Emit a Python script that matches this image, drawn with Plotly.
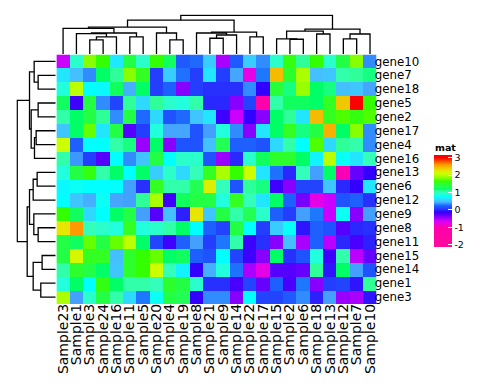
import plotly.graph_objects as go

# ---------------- data ----------------
samples = ["Sample23", "Sample1", "Sample3", "Sample24", "Sample16", "Sample11",
           "Sample5", "Sample20", "Sample4", "Sample19", "Sample8", "Sample21",
           "Sample9", "Sample14", "Sample22", "Sample17", "Sample15", "Sample2",
           "Sample6", "Sample18", "Sample13", "Sample12", "Sample7", "Sample10"]
genes = ["gene10", "gene7", "gene18", "gene5", "gene2", "gene17", "gene4", "gene16",
         "gene13", "gene6", "gene12", "gene9", "gene8", "gene11", "gene15", "gene14",
         "gene1", "gene3"]

gene10 = [-0.6, 0.95, 1.85, 1.65, 0.66, 1.4, 0.95, 1.65, 1.25, 0.2, 0.25, 0.55, -0.5, 0.2, 0.55, 0.35, 0.95, 1.6, 1.1, 1.65, 0.95, 1.4, 1.85, 0.35]
gene7 = [0.65, 0.5, 0.35, 1.2, 1.1, 1.85, 1.55, 0.08, 0.55, 0.28, 0.08, 0.65, 0.08, 0.42, -0.75, 0.3, 2.45, 1.5, 1.95, 0.5, 0.52, 1.05, 1.1, 1.15]
gene18 = [0.9, 2.0, 0.75, 0.72, 1.25, 0.45, 1.2, 0.08, 0.22, -0.4, 0.08, 0.03, 0.03, 0.03, 0.35, -0.1, 1.45, 1.15, 1.9, 1.2, 1.15, 0.5, 0.52, 0.42]
gene5 = [1.25, -0.15, 1.4, 0.35, 0.1, 1.1, 0.6, 1.1, 0.95, 0.9, 1.05, 0.0, 0.0, -0.4, 0.1, -1.0, 1.05, 1.25, 1.25, 1.2, 1.55, 2.4, 3.0, 1.65]
gene2 = [1.05, 1.2, 1.4, 1.1, 0.35, 1.4, 0.25, 0.6, 0.17, 0.25, 0.52, 0.65, -0.15, -0.6, -0.1, -0.4, 1.2, 1.1, 0.65, 2.45, 1.55, 1.7, 1.6, 1.7]
gene17 = [0.52, 1.2, 1.75, 0.65, 1.4, -0.25, 0.08, 0.9, 0.42, 0.42, 0.17, 0.4, 0.9, 0.35, -0.4, 0.65, 1.2, 1.55, 1.15, 1.4, 2.5, 1.2, 1.85, 0.35]
gene4 = [2.1, 0.22, 0.75, 0.75, 1.05, 1.15, -0.45, 1.2, -0.4, 0.17, 0.17, 0.5, 1.3, 0.22, 0.22, 0.17, 0.6, 1.05, 0.75, 1.7, 0.6, 1.1, 1.05, 0.35]
gene16 = [1.05, 0.38, 0.08, -0.25, 0.75, 0.35, 0.52, 1.4, 0.75, 0.95, 0.95, 0.17, -0.45, 0.0, 0.95, 1.25, 1.5, 1.5, 1.2, 0.7, 2.0, 0.78, 0.65, 1.0]
gene13 = [0.9, 1.4, 1.6, 1.05, 1.2, 0.75, 1.2, 0.55, 0.95, 0.6, 1.0, 1.55, 1.95, 1.65, 2.1, 0.65, 0.28, 0.0, 1.0, 0.4, 1.2, -0.95, -0.3, -0.1]
gene6 = [0.72, 0.8, 0.75, 0.75, 0.75, 0.4, 0.03, 1.55, 1.05, 1.05, 1.3, 2.2, 1.0, 0.17, 1.1, 1.15, -0.15, -0.4, 0.1, 0.1, 0.52, 0.0, -0.1, 0.65]
gene12 = [0.75, 0.52, 0.45, 0.8, 0.42, 0.4, 1.1, 1.95, -0.15, 1.25, 1.4, 1.4, 0.9, 1.55, 1.0, 0.65, 1.2, 0.22, -0.35, -0.75, -0.6, 0.17, 0.22, 0.03]
gene9 = [1.65, 1.25, 0.6, 0.75, 1.2, 1.4, 0.4, -0.25, 0.5, -0.02, 2.25, 0.52, 1.4, 1.05, 1.3, 0.95, 0.22, 0.08, 0.4, 0.3, -0.6, 0.8, -0.4, 0.4]
gene8 = [2.25, 2.6, 1.0, 0.95, 0.9, 1.55, 0.9, 0.95, 1.05, 1.2, 0.75, 0.22, 0.1, 1.4, 0.75, 0.08, 0.55, 0.78, -0.05, 0.22, 0.17, -0.25, 0.0, 0.03]
gene11 = [1.4, 1.25, 1.75, 1.4, 1.75, 2.0, 1.2, 0.1, -0.15, 0.22, 0.4, 0.08, 0.3, 1.05, -0.15, 0.03, -0.4, 0.5, -0.5, 0.22, -0.55, 0.0, -0.2, -0.02]
gene15 = [1.4, 2.15, 1.55, 1.55, 0.5, 1.5, 1.65, 1.75, 1.2, 1.25, 0.22, 0.17, 0.75, 0.1, -0.15, -0.4, 1.2, 0.03, 0.17, 0.9, -0.15, 1.05, -0.55, -0.3]
gene14 = [1.05, 1.5, 1.4, 1.2, 0.52, 1.5, 1.65, 2.1, 1.0, 0.7, -0.1, 0.45, 0.9, 0.28, -0.5, -0.75, -0.25, -0.25, -0.3, 1.1, -0.05, 1.2, 0.4, 0.17]
gene1 = [0.9, 1.2, 0.75, 1.6, 1.2, 1.05, 1.05, 1.0, 1.5, 1.4, 0.95, 0.03, 0.03, -0.2, 0.1, -0.3, 0.22, -0.2, 0.3, -0.4, 0.08, 0.1, -0.05, 1.1]
gene3 = [1.95, 0.4, 0.95, 1.4, 1.05, 0.6, 0.3, 0.8, 1.4, 1.3, -0.1, 0.35, 0.35, -0.4, 0.75, 0.1, 0.1, 0.2, 0.35, -0.02, 0.4, -0.45, -0.5, -0.05]

mat = [gene10, gene7, gene18, gene5, gene2, gene17, gene4, gene16, gene13, gene6,
       gene12, gene9, gene8, gene11, gene15, gene14, gene1, gene3]

# dendrogram merges (hclust style): negative = leaf position (1-based, display order),
# positive = earlier merge step; third value = merge height
col_merge_a = [-3, 1, -2, -6, 3, -1, -9, -8, 6, -12, 10, -11, -15, 12, 9, -18, -17, -20, 17, -22, 20, 19, 15]
col_merge_b = [-4, -5, 2, -7, 4, 5, -10, 7, 8, -13, -14, 11, -16, 13, 14, -19, 16, -21, 18, -23, -24, 21, 22]
col_height = [43, 52, 62, 52, 64, 78, 43, 64, 82, 48, 58, 64, 52, 67, 103, 45, 46, 61, 70, 46, 61, 76, 118]

row_merge_a = [-2, -1, -4, -6, 4, 3, 2, -9, 8, -13, -12, 9, -15, -17, 13, 12, 7]
row_merge_b = [-3, 1, -5, -7, -8, 5, 6, -10, -11, -14, 10, 11, -16, -18, 14, 15, 16]
row_height = [53, 65, 53, 59, 64, 74, 79, 56, 68, 53, 66, 79, 41, 45, 68, 86, 116]

legend_ticks = [3, 2, 1, 0, -1, -2]
legend_title = "mat"

# ---------------- colour mapping ----------------
col_stops = [(-2.0, "#FF0AA0"), (-1.0, "#FF00AA"), (-0.75, "#E600E6"), (-0.6, "#CC00FF"),
             (-0.5, "#AA00FF"), (-0.4, "#8800FF"), (-0.25, "#5500FF"), (-0.1, "#3300FF"),
             (0.0, "#2A28FF"), (0.1, "#2244FF"), (0.2, "#1E5AFF"), (0.3, "#1E78FF"),
             (0.4, "#44A0FF"), (0.5, "#44C0FF"), (0.65, "#22E6FF"), (0.75, "#00FFFF"),
             (0.9, "#22FFDD"), (1.0, "#33FFBB"), (1.1, "#2EFF99"), (1.2, "#00FF66"),
             (1.3, "#22FF55"), (1.4, "#22FF44"), (1.55, "#33FF22"), (1.65, "#33FF00"),
             (1.75, "#66FF00"), (1.85, "#88FF00"), (2.0, "#BBFF00"), (2.1, "#CCFF00"),
             (2.25, "#E6E600"), (2.4, "#F0C800"), (2.5, "#F8B000"), (2.6, "#FF9900"),
             (3.0, "#FF0000")]
zmin, zmax = -2.12, 3.15
cscale = [[0.0, col_stops[0][1]]]
for v, c in col_stops:
    cscale.append([(v - zmin) / (zmax - zmin), c])
cscale.append([1.0, col_stops[-1][1]])

FONT = "DejaVu Sans, Liberation Sans, Arial, sans-serif"
W, H = 480, 384

# geometry (pixels)
hm_l, hm_r, hm_t, hm_b = 46.7, 369.0, 46.5, 296.0
bar_top, bar_bot = 147.0, 239.0


def dendro(ma, mb, hts):
    nodes = {}
    pos, hh = [], []

    def info(i):
        if i < 0:
            return (-i - 1, 0.0)
        return nodes[i]

    for k, (a, b, h) in enumerate(zip(ma, mb, hts), start=1):
        ca, ha = info(a)
        cb, hb = info(b)
        pos += [ca, ca, cb, cb, None]
        hh += [ha, h, h, hb, None]
        nodes[k] = ((ca + cb) / 2.0, h)
    return pos, hh


fig = go.Figure()

fig.add_trace(go.Heatmap(
    z=mat, x=samples, y=genes, colorscale=cscale, zmin=zmin, zmax=zmax,
    xaxis="x", yaxis="y", hoverinfo="skip",
    colorbar=dict(
        x=427 / W, xanchor="left", y=1 - (bar_top + bar_bot) / 2 / H, yanchor="middle",
        len=bar_bot - bar_top, lenmode="pixels", thickness=18, thicknessmode="pixels",
        outlinewidth=0, xpad=0, ypad=0,
        tickvals=legend_ticks, ticktext=[str(t) for t in legend_ticks],
        ticks="inside", tickcolor="white", ticklen=4, tickwidth=1,
        tickfont=dict(size=9.5, family=FONT, color="black"),
    ),
))

cx, cy = dendro(col_merge_a, col_merge_b, col_height)
fig.add_trace(go.Scatter(x=cx, y=cy, mode="lines", line=dict(color="black", width=1.3),
                         xaxis="x2", yaxis="y2", hoverinfo="skip", showlegend=False))
ry, rx = dendro(row_merge_a, row_merge_b, row_height)
fig.add_trace(go.Scatter(x=rx, y=ry, mode="lines", line=dict(color="black", width=1.3),
                         xaxis="x3", yaxis="y3", hoverinfo="skip", showlegend=False))

top_scale = (46.0 - 7.3) / 118.0
top_max = 121.0
left_scale = (46.0 - 7.3) / 116.0
left_max = 119.0

fig.add_annotation(text="<b>" + legend_title + "</b>", xref="paper", yref="paper",
                   x=427 / W, y=1 - 145.5 / H, xanchor="left", yanchor="bottom",
                   showarrow=False, borderpad=0,
                   font=dict(size=9.5, family=FONT, color="black"))

fig.update_layout(
    width=W, height=H, margin=dict(l=0, r=0, t=0, b=0),
    paper_bgcolor="white", plot_bgcolor="white", showlegend=False,
    font=dict(family=FONT, color="black"),
    xaxis=dict(domain=[hm_l / W, hm_r / W], anchor="y", tickangle=-90,
               tickmode="array", tickvals=samples, ticktext=samples,
               ticks="", ticklabelstandoff=-4,
               showgrid=False, zeroline=False, showline=False,
               tickfont=dict(size=14, family=FONT, color="black")),
    yaxis=dict(domain=[1 - hm_b / H, 1 - hm_t / H], anchor="x", side="right",
               tickmode="array", tickvals=genes, ticktext=genes,
               autorange="reversed", ticks="", ticklabelstandoff=-3,
               showgrid=False, zeroline=False, showline=False,
               tickfont=dict(size=11.8, family=FONT, color="black")),
    xaxis2=dict(domain=[hm_l / W, hm_r / W], anchor="y2", range=[-0.5, 23.5], visible=False),
    yaxis2=dict(domain=[1 - 46.0 / H, 1 - (46.0 - top_max * top_scale) / H], anchor="x2",
                range=[0, top_max], visible=False),
    xaxis3=dict(domain=[(46.0 - left_max * left_scale) / W, 46.0 / W], anchor="y3",
                range=[left_max, 0], visible=False),
    yaxis3=dict(domain=[1 - hm_b / H, 1 - hm_t / H], anchor="x3",
                range=[17.5, -0.5], visible=False),
)

fig.write_html("out.html")
